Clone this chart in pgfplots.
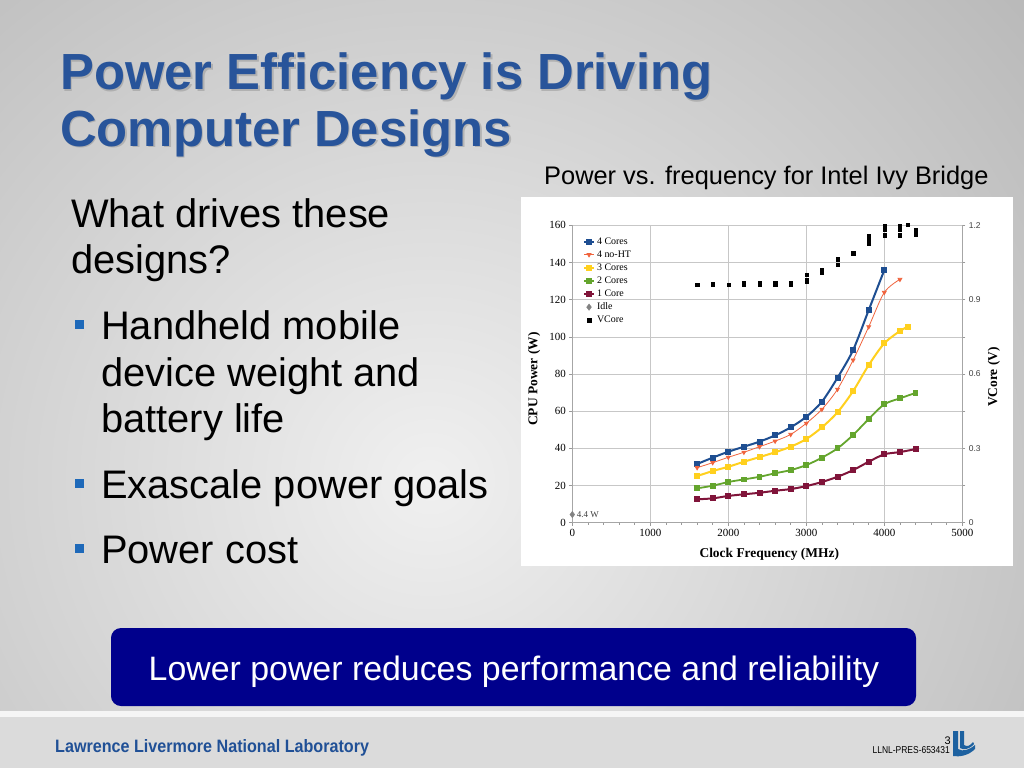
\documentclass[border=0pt]{standalone}
\usepackage{fontspec}
\setmainfont{Liberation Sans}
\newfontfamily\chartserif{Liberation Serif}
\usepackage{pgfplots}
\pgfplotsset{compat=1.18}

\definecolor{titleblue}{RGB}{40,84,154}
\definecolor{bulletblue}{RGB}{30,105,185}
\definecolor{navybox}{RGB}{0,0,140}
\definecolor{footblue}{RGB}{32,80,150}
\definecolor{cfour}{RGB}{30,78,145}
\definecolor{cnoht}{RGB}{240,100,62}
\definecolor{cthree}{RGB}{255,208,30}
\definecolor{ctwo}{RGB}{100,165,45}
\definecolor{cone}{RGB}{128,20,58}
\definecolor{cidle}{RGB}{130,130,130}
\definecolor{bgin}{RGB}{240,240,240}
\definecolor{bgout}{RGB}{128,128,128}
\pgfdeclareradialshading{slidebg}{\pgfpoint{0bp}{0bp}}{color(0bp)=(bgin); color(50bp)=(bgout)}

\begin{document}
\begin{tikzpicture}[x=1bp,y=1bp]
\useasboundingbox (0,0) rectangle (1024,-768);

% slide background
\begin{scope}
  \clip (0,0) rectangle (1024,-711);
  \fill[bgout] (0,0) rectangle (1024,-711);
  \shade[shading=slidebg] (430,-480) ellipse (800 and 760);
\end{scope}
\fill[white!96!black] (0,-711) rectangle (1024,-717);
\fill[black!14] (0,-717) rectangle (1024,-768);

% title
\foreach \yy/\txt in {90/Power Efficiency is Driving, 146/Computer Designs}{
  \node[anchor=base west, inner sep=0, font=\fontsize{51}{56}\selectfont\bfseries, text=black!45, opacity=0.45] at (61.5,-\yy-1.5) {\txt};
  \node[anchor=base west, inner sep=0, font=\fontsize{51}{56}\selectfont\bfseries, text=titleblue] at (60,-\yy) {\txt};
}

\node[anchor=base west, inner sep=0, font=\fontsize{25.5}{30}\selectfont] at (544,-184) {Power vs. frequency for Intel Ivy Bridge};

% left column text
\begin{scope}[every node/.style={anchor=base west, inner sep=0, font=\fontsize{40}{48}\selectfont}]
  \node at (71,-227) {What drives these};
  \node at (71,-273) {designs?};
  \node at (101,-339) {Handheld mobile};
  \node at (101,-386) {device weight and};
  \node at (101,-432) {battery life};
  \node at (101,-498) {Exascale power goals};
  \node at (101,-563) {Power cost};
\end{scope}
\foreach \yy in {320,479,544}{
  \fill[bulletblue] (74.5,-\yy) rectangle (83.5,-\yy-9);
}

% bottom box
\fill[navybox, rounded corners=10] (111,-628) rectangle (916,-706);
\node[anchor=base, inner sep=0, font=\fontsize{34}{40}\selectfont, text=white] at (514,-680) {Lower power reduces performance and reliability};

% footer
\node[anchor=base west, inner sep=0, xscale=0.9, font=\fontsize{18}{20}\selectfont\bfseries, text=footblue] at (55,-752) {Lawrence Livermore National Laboratory};
\node[anchor=base east, inner sep=0, xscale=0.85, font=\fontsize{10}{12}\selectfont] at (950,-753) {LLNL-PRES-653431};
\node[anchor=base east, inner sep=0, font=\fontsize{11}{12}\selectfont] at (951,-744) {3};
\fill[footblue!90!cyan] (953,-731) -- (958,-731) -- (958,-749) .. controls (963,-752) and (969,-750) .. (975,-745)
  -- (975,-749) .. controls (968,-756) and (959,-757) .. (953,-756) -- cycle;
\fill[footblue!90!cyan] (960,-731) -- (964,-731) -- (964,-745) .. controls (967,-747) and (970,-746) .. (973,-742)
  -- (974,-744) .. controls (969,-750) and (963,-750) .. (960,-748) -- cycle;

% chart panel
\fill[white] (521,-197) rectangle (1013,-566);

\begin{axis}[
  at={(572.3bp,-522.7bp)}, anchor=south west,
  scale only axis, width=390bp, height=297.4bp,
  xmin=0, xmax=5000, ymin=0, ymax=160,
  axis x line*=bottom, axis y line*=left,
  xtick={0,1000,...,5000}, ytick={0,20,...,160},
  minor x tick num=4,
  grid=major, major grid style={draw=black!22, line width=0.6bp},
  axis line style={draw=black!35, line width=0.6bp},
  tick style={draw=black!40, line width=0.5bp},
  tick align=outside, major tick length=3bp, minor tick length=2bp,
  /pgf/number format/1000 sep={},
  /pgf/number format/assume math mode=true,
  tick label style={font=\chartserif\fontsize{11}{12}\selectfont, text=black},
  xlabel={Clock Frequency (MHz)}, ylabel={CPU Power (W)},
  label style={font=\chartserif\bfseries\fontsize{13.5}{15}\selectfont},
  xlabel style={at={(axis description cs:0.505,-0.105)}, anchor=center},
  ylabel style={at={(axis description cs:-0.098,0.483)}, anchor=center},
  clip=false,
  legend style={at={(0.027,0.966)}, anchor=north west, draw=none, fill=none,
    font=\chartserif\fontsize{10}{11}\selectfont, inner sep=0pt, row sep=1bp},
  legend cell align=left,
  legend image code/.code={\draw[mark repeat=2,mark phase=2,#1] plot coordinates {(0bp,0bp) (5bp,0bp) (10bp,0bp)};},
]
% 4 Cores
\addplot[cfour, line width=2bp, smooth, mark=square*, mark size=2bp] coordinates {
  (1600,31.6)(1800,35.0)(2000,38.2)(2200,40.9)(2400,43.6)(2600,47.0)(2800,51.3)
  (3000,57.0)(3200,65.1)(3400,78.0)(3600,92.9)(3800,114.4)(4000,135.9)};
% 4 no-HT
\addplot[cnoht, line width=0.8bp, smooth, mark=triangle*, mark size=2.2bp, mark options={rotate=180}] coordinates {
  (1600,29.6)(1800,32.3)(2000,35.2)(2200,37.9)(2400,40.9)(2600,43.9)(2800,47.5)
  (3000,53.5)(3200,61.0)(3400,71.8)(3600,87.5)(3800,105.4)(4000,123.9)(4200,130.9)};
% 3 Cores
\addplot[cthree, line width=2bp, smooth, mark=square*, mark size=2bp] coordinates {
  (1600,25.1)(1800,27.8)(2000,30.1)(2200,32.8)(2400,35.3)(2600,37.9)(2800,40.9)
  (3000,45.0)(3200,51.3)(3400,59.4)(3600,70.8)(3800,84.8)(4000,96.5)(4200,103.1)(4300,105.4)};
% 2 Cores
\addplot[ctwo, line width=1.8bp, smooth, mark=square*, mark size=2bp] coordinates {
  (1600,18.5)(1800,19.9)(2000,21.9)(2200,23.3)(2400,24.7)(2600,26.6)(2800,28.3)
  (3000,31.0)(3200,35.0)(3400,40.0)(3600,47.2)(3800,55.8)(4000,63.7)(4200,66.9)(4400,69.8)};
% 1 Core
\addplot[cone, line width=2bp, smooth, mark=square*, mark size=2bp] coordinates {
  (1600,12.6)(1800,13.1)(2000,14.4)(2200,15.3)(2400,16.1)(2600,17.2)(2800,18.1)
  (3000,19.7)(3200,21.9)(3400,24.7)(3600,28.3)(3800,32.8)(4000,36.8)(4200,38.0)(4400,39.6)};
% Idle
\addplot[cidle, only marks, mark=diamond*, mark size=3.2bp,
  nodes near coords={4.4 W},
  nodes near coords style={anchor=west, font=\chartserif\fontsize{9}{10}\selectfont, text=black!75, xshift=1bp}]
  coordinates {(0,4.4)};
\addlegendimage{only marks, mark=square*, mark size=1.8bp, black}
\legend{4 Cores, 4 no-HT, 3 Cores, 2 Cores, 1 Core, Idle, VCore}
\end{axis}

\begin{axis}[
  at={(572.3bp,-522.7bp)}, anchor=south west,
  scale only axis, width=390bp, height=297.4bp,
  xmin=0, xmax=5000, ymin=0, ymax=1.2,
  axis x line=none, axis y line*=right,
  ytick={0,0.3,0.6,0.9,1.2}, minor y tick num=1,
  axis line style={draw=black!35, line width=0.6bp},
  tick style={draw=black!40, line width=0.5bp},
  tick align=outside, major tick length=3bp, minor tick length=3bp,
  /pgf/number format/assume math mode=true,
  yticklabel style={font=\fontsize{8.5}{10}\selectfont, text=black!75},
  ylabel={VCore (V)},
  ylabel style={font=\chartserif\bfseries\fontsize{13.5}{15}\selectfont, at={(axis description cs:1.081,0.49)}, anchor=center},
  clip=false,
]
\addplot[only marks, mark=square*, mark size=1.6bp, black] coordinates {
  (1600,0.960)(1800,0.962)(2000,0.960)
  (2200,0.970)(2200,0.962)(2400,0.970)(2400,0.962)(2600,0.970)(2600,0.962)(2800,0.970)(2800,0.962)
  (3000,1.002)(3000,0.982)(3000,0.972)
  (3200,1.020)(3200,1.010)
  (3400,1.063)(3400,1.040)
  (3600,1.090)(3600,1.084)
  (3800,1.158)(3800,1.147)(3800,1.136)(3800,1.128)
  (4000,1.200)(4000,1.192)(4000,1.184)(4000,1.160)
  (4200,1.200)(4200,1.192)(4200,1.184)(4200,1.160)
  (4300,1.203)
  (4400,1.180)(4400,1.162)};
\end{axis}
\end{tikzpicture}
\end{document}
